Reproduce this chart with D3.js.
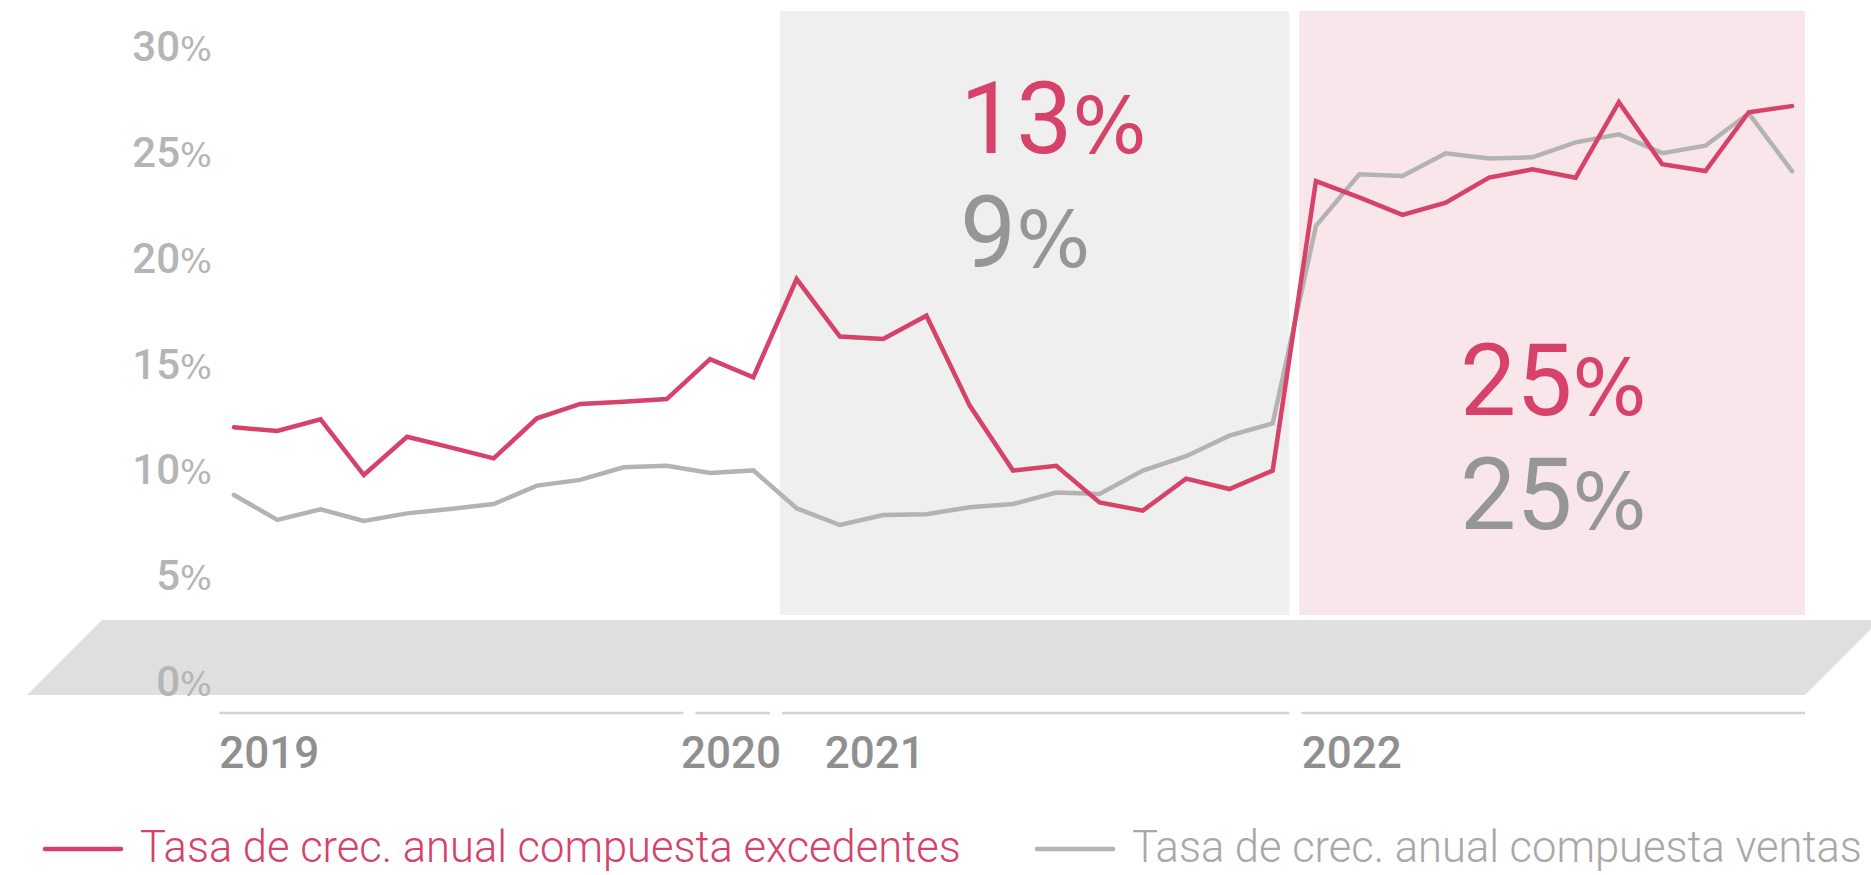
<!DOCTYPE html>
<html>
<head>
<meta charset="utf-8">
<script src="https://cdn.jsdelivr.net/npm/d3@7"></script>
<style>
  body { margin: 0; background: #fff; }
  svg { display: block; font-family: Roboto, "Noto Sans", sans-serif; }
  .pct { font-family: "DejaVu Sans", sans-serif; }
</style>
</head>
<body>
<svg class="chart"></svg>
<script>
// monthly values, 2019 (11) + 2020 (2) + 2021 (12) + 2022 (12)
var excedentes = [11.99, 11.81, 12.36, 9.73, 11.54, 11.04, 10.52, 12.41, 13.09, 13.19, 13.32,
                  15.21, 14.35,
                  18.99, 16.27, 16.16, 17.26, 13.01, 9.94, 10.17, 8.44, 8.05, 9.56, 9.07, 9.94,
                  23.62, 22.85, 22.02, 22.60, 23.78, 24.17, 23.78, 27.35, 24.42, 24.09, 26.87, 27.16];
var ventas = [8.79, 7.61, 8.11, 7.56, 7.92, 8.13, 8.36, 9.23, 9.50, 10.10, 10.17,
              9.83, 9.95,
              8.16, 7.37, 7.84, 7.88, 8.21, 8.36, 8.90, 8.83, 9.94, 10.62, 11.59, 12.17,
              21.50, 23.94, 23.86, 24.93, 24.69, 24.74, 25.45, 25.83, 24.94, 25.29, 26.82, 24.09];

var years = ['2019', '2020', '2021', '2022'];
var yearStart = [0, 11, 13, 25];
var yearEnd = [10, 12, 24, 36];
var yearLabelAt = [-0.34, 10.33, 13.65, 24.67];

var yTicks = [0, 5, 10, 15, 20, 25, 30];

var periods = ['2021', '2022'];
var periodExced = [13, 25];
var periodVentas = [9, 25];

var legendLabels = ['Tasa de crec. anual compuesta excedentes', 'Tasa de crec. anual compuesta ventas'];

var red = '#d6426a', grey = '#b3b3b3';

var svg = d3.select('.chart')
            .attr('width', 1871)
            .attr('height', 875);

var x = d3.scaleLinear()
          .domain([0, excedentes.length - 1])
          .range([234, 1792]);

var y = d3.scaleLinear()
          .domain([0, 30])
          .range([681, 46]);

var plotTop = 11, plotBottom = 615, rightEdge = 1805;

var left = i => x(yearStart[i] - 0.5);
var right = i => Math.min(x(yearEnd[i] + 0.5), rightEdge + 5);

// shaded periods
var panelFill = {'2021': '#efefef', '2022': '#f8e6ea'};
svg.selectAll('.panel').data(periods)
   .join('rect')
   .attr('class', 'panel')
   .attr('x', d => left(years.indexOf(d)) + 5)
   .attr('y', plotTop)
   .attr('width', d => right(years.indexOf(d)) - left(years.indexOf(d)) - 10)
   .attr('height', plotBottom - plotTop)
   .attr('fill', d => panelFill[d]);

// floor band
svg.append('path')
   .attr('d', 'M102,620 L1880,620 L' + rightEdge + ',695 L27,695 Z')
   .attr('fill', '#dfdfdf');

// y labels
var yLab = svg.append('g').selectAll('text').data(yTicks)
   .join('text')
   .attr('x', 212)
   .attr('y', d => y(d) + 15)
   .attr('text-anchor', 'end')
   .attr('fill', '#b5b5b5')
   .attr('font-size', 42)
   .attr('font-weight', 500);
yLab.append('tspan').text(d => d);
yLab.append('tspan').attr('class', 'pct').attr('font-size', '0.8em').attr('font-weight', 400).text('%');

// year segments + labels
svg.append('g').selectAll('line').data(years)
   .join('line')
   .attr('x1', (d, i) => left(i) + 7)
   .attr('x2', (d, i) => right(i) - 5)
   .attr('y1', 713)
   .attr('y2', 713)
   .attr('stroke', '#d4d4d4')
   .attr('stroke-width', 2.5);

svg.append('g').selectAll('text').data(years)
   .join('text')
   .attr('x', (d, i) => x(yearLabelAt[i]))
   .attr('y', 768)
   .attr('fill', '#8f8f8f')
   .attr('font-size', 44)
   .attr('font-weight', 500)
   .text(d => d);

// lines
var line = d3.line()
             .x((d, i) => x(i))
             .y(d => y(d));

svg.append('path')
   .datum(ventas)
   .attr('d', line)
   .attr('fill', 'none')
   .attr('stroke', grey)
   .attr('stroke-width', 4.5)
   .attr('stroke-linecap', 'round');

svg.append('path')
   .datum(excedentes)
   .attr('d', line)
   .attr('fill', 'none')
   .attr('stroke', red)
   .attr('stroke-width', 4.5)
   .attr('stroke-linecap', 'round');

// big period figures
var annX = [960, 1460], annY = [153, 415];
var ann = svg.append('g').selectAll('g').data(periods)
   .join('g')
   .attr('transform', (d, i) => 'translate(' + annX[i] + ',' + annY[i] + ')');

var t1 = ann.append('text').attr('fill', red).attr('font-size', 100);
t1.append('tspan').text((d, i) => periodExced[i]);
t1.append('tspan').attr('class', 'pct').attr('font-size', '0.78em').text('%');

var t2 = ann.append('text').attr('y', 114).attr('fill', '#969696').attr('font-size', 100);
t2.append('tspan').text((d, i) => periodVentas[i]);
t2.append('tspan').attr('class', 'pct').attr('font-size', '0.78em').text('%');

// legend
var legX = [45, 1037];
var leg = svg.append('g').selectAll('g').data(legendLabels)
   .join('g')
   .attr('transform', (d, i) => 'translate(' + legX[i] + ',849)');

leg.append('line')
   .attr('x1', 0).attr('x2', 76)
   .attr('stroke', (d, i) => i ? grey : red)
   .attr('stroke-width', 4.5)
   .attr('stroke-linecap', 'round');

leg.append('text')
   .attr('x', 95)
   .attr('y', 13)
   .attr('fill', (d, i) => i ? '#a8a8a8' : red)
   .attr('font-size', 43.5)
   .attr('font-weight', 300)
   .text(d => d);
</script>
</body>
</html>
